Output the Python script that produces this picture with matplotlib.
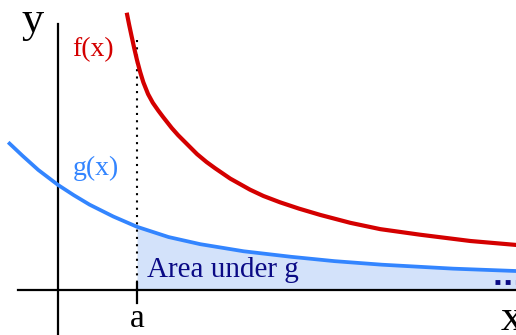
"""
Area under g: two decaying curves f and g, shaded region right of x = a
"""
import matplotlib
matplotlib.use("Agg")
import matplotlib.pyplot as plt

# curve samples (units: a = 1)
g_x = [-0.63, -0.45, -0.25, 0.0, 0.2, 0.4, 0.7, 1.0, 1.4, 1.8, 2.35, 2.95,
       3.5, 4.1, 5.0, 5.8]
g_y = [1.87, 1.70, 1.52, 1.33, 1.20, 1.08, 0.93, 0.80, 0.67, 0.58, 0.49, 0.42,
       0.365, 0.32, 0.27, 0.24]

f_x = [0.87, 0.90, 0.93, 0.965, 1.00, 1.04, 1.08, 1.14, 1.20, 1.27, 1.33, 1.44,
       1.52, 1.61, 1.76, 1.88, 1.99, 2.18, 2.43, 2.6, 2.81, 3.05, 3.32, 3.7,
       4.08, 4.58, 5.22, 5.8]
f_y = [3.51, 3.36, 3.22, 3.06, 2.91, 2.76, 2.63, 2.48, 2.37, 2.27, 2.19, 2.05,
       1.96, 1.87, 1.72, 1.62, 1.54, 1.41, 1.27, 1.19, 1.11, 1.03, 0.95, 0.85,
       0.77, 0.70, 0.62, 0.57]

a = 1.0
dots_x = [5.53, 5.8]
dots_y = [0.10, 0.10]

red = "#d40000"
blue = "#3385ff"
navy = "#0a0a85"
fill = "#d3e2fa"

plt.rcParams["font.family"] = ["Liberation Serif", "DejaVu Serif"]

fig = plt.figure(figsize=(5.16, 3.35), dpi=100)
ax = fig.add_axes([0, 0, 1, 1])
ax.set_xlim(-0.734, 5.797)
ax.set_ylim(-0.570, 3.671)
ax.axis("off")

# shaded area under g, right of a
area_x = [x for x in g_x if x >= a]
area_y = [y for x, y in zip(g_x, g_y) if x >= a]
ax.fill_between(area_x, 0, area_y, color=fill, lw=0, zorder=1)

# axes
ax.plot([-0.506, 5.8], [0, 0], color="black", lw=1.6, zorder=2)
ax.plot([0, 0], [-0.6, 3.367], color="black", lw=1.6, zorder=2)
ax.plot([a, a], [0.089, -0.165], color="black", lw=1.6, zorder=2)
ax.plot([a, a], [0, 3.23], color="black", lw=1.5, linestyle=(0, (1, 2.5)), zorder=2)

ax.plot(g_x, g_y, color=blue, lw=2.7, solid_capstyle="butt",
        solid_joinstyle="round", zorder=3)
ax.plot(f_x, f_y, color=red, lw=3.0, solid_capstyle="butt",
        solid_joinstyle="round", zorder=3)
ax.plot(dots_x, dots_y, color=navy, lw=3.5, linestyle=(0, (1, 1.1)), zorder=3)

# labels
ax.text(-0.316, 3.266, "y", fontsize=32, ha="center", va="baseline")
ax.text(5.6, -0.506, "x", fontsize=32, ha="left", va="baseline")
ax.text(a, -0.563, "a", fontsize=24, ha="center", va="bottom")
ax.text(0.443, 3.038, "f(x)", fontsize=20, color=red, ha="center", va="center")
ax.text(0.48, 1.544, "g(x)", fontsize=20, color=blue, ha="center", va="center")
ax.text(1.127, 0.165, "Area under g", fontsize=21, color=navy, ha="left", va="baseline")

plt.savefig("out.png", dpi=100)
